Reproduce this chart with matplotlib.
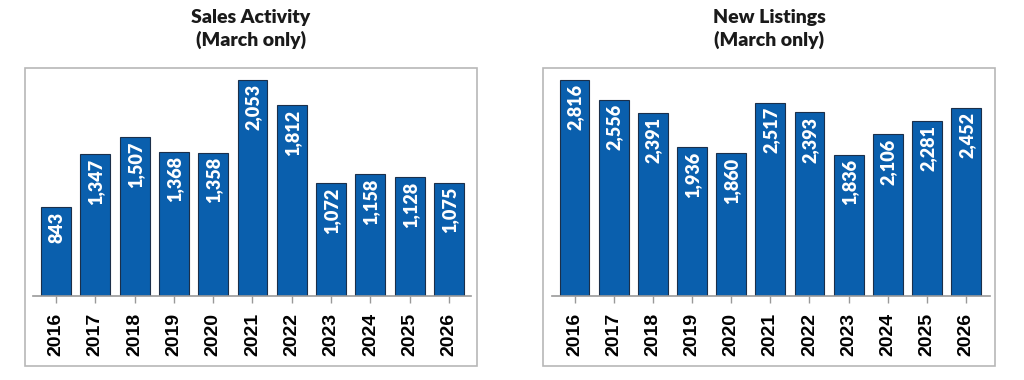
import matplotlib.pyplot as plt
from matplotlib.patches import Rectangle

years = ['2016', '2017', '2018', '2019', '2020', '2021', '2022', '2023', '2024', '2025', '2026']
sales = [843, 1347, 1507, 1368, 1358, 2053, 1812, 1072, 1158, 1128, 1075]
listings = [2816, 2556, 2391, 1936, 1860, 2517, 2393, 1836, 2106, 2281, 2452]

bar_color = '#0A5FAD'

fig = plt.figure(figsize=(10.24, 3.8), dpi=100)

def panel(left, right, box_left, box_right, title, values, xlim, ytop):
    # grey frame around the whole panel (incl. tick labels)
    fig.patches.append(Rectangle((box_left / 1024, 14 / 380), (box_right - box_left) / 1024, 298 / 380,
                                 transform=fig.transFigure, fill=False, edgecolor='#b8b8b8', lw=1.2))
    ax = fig.add_axes([left / 1024, 1 - 296 / 380, (right - left) / 1024, 224 / 380])
    x = range(len(years))
    ax.bar(x, values, width=0.76, color=bar_color, edgecolor='#1b2f4a', linewidth=0.8)
    for i, v in enumerate(values):
        ax.annotate(f'{v:,}', (i, v), xytext=(0.5, -3), textcoords='offset points',
                    rotation=90, ha='center', va='top', color='white',
                    fontsize=13, fontweight='heavy', family='Lato')
    ax.set_xlim(*xlim)
    ax.set_ylim(0, ytop)
    ax.set_xticks(list(x))
    ax.set_xticklabels(years, rotation=90, fontsize=14, fontweight='bold', family='Liberation Sans')
    ax.tick_params(axis='x', length=5, color='#999999', pad=7, width=1)
    ax.set_yticks([])
    for s in ['top', 'left', 'right']:
        ax.spines[s].set_visible(False)
    ax.spines['bottom'].set_color('#999999')
    ax.spines['bottom'].set_linewidth(1.2)
    cx = (box_left + box_right) / 2 / 1024
    fig.text(cx, 1 - 17 / 380, title, ha='center', va='center', fontsize=14,
             fontweight='heavy', family='Lato', color='#1a1a1a')
    fig.text(cx, 1 - 40 / 380, '(March only)', ha='center', va='center', fontsize=14,
             fontweight='heavy', family='Lato', color='#1a1a1a')
    return ax

panel(33, 471, 25, 477, 'Sales Activity', sales, (-0.585, 10.56), 2129)
panel(552, 990, 543, 995, 'New Listings', listings, (-0.575, 10.61), 2920)

plt.savefig('out.png', dpi=100)
